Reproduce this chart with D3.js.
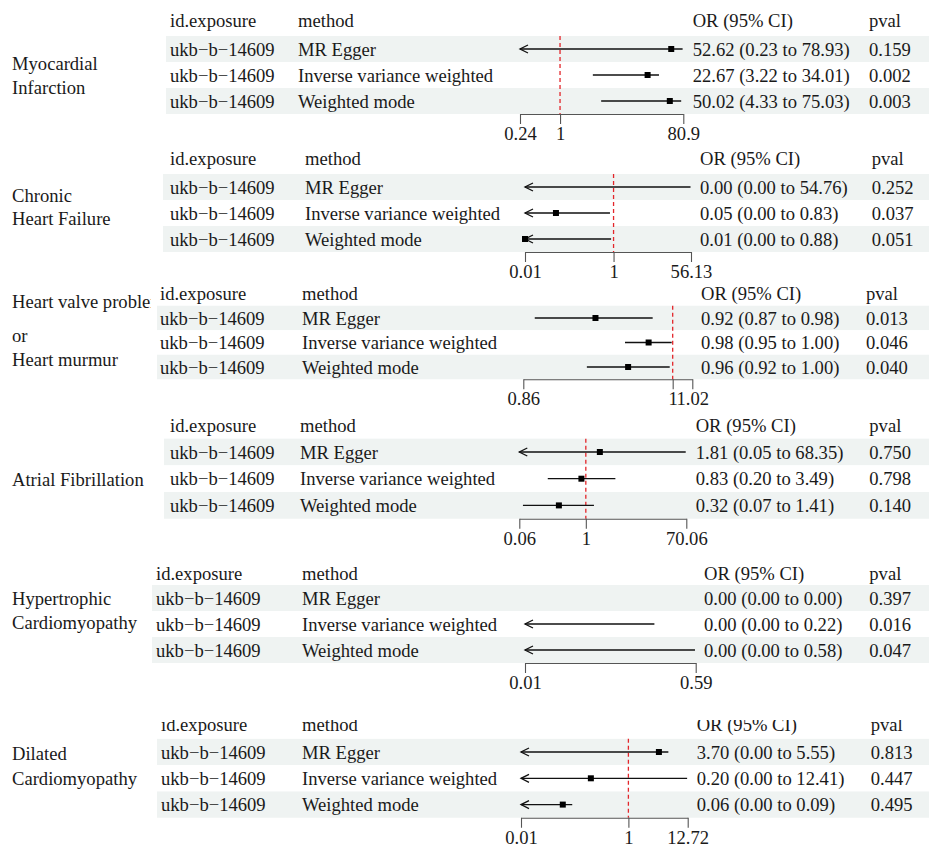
<!DOCTYPE html>
<html><head><meta charset="utf-8">
<script src="https://cdn.jsdelivr.net/npm/d3@7"></script>
<style>
body{margin:0;background:#fff}
svg text{font-family:"Liberation Serif","Times New Roman",serif;fill:#1a1a1a}
</style>
</head><body><svg id="chart" width="929" height="848"></svg>
<script>
// ---------------- data ----------------
const outcomes = [
  ["Myocardial","Infarction"],
  ["Chronic","Heart Failure"],
  ["Heart valve problem","or","Heart murmur"],
  ["Atrial Fibrillation"],
  ["Hypertrophic","Cardiomyopathy"],
  ["Dilated","Cardiomyopathy"]
];
const headers = ["id.exposure","method","OR (95% CI)","pval"];
const exposure = "ukb\u2212b\u221214609";
const methods = ["MR Egger","Inverse variance weighted","Weighted mode"];

const estimates = [
  [52.62, 22.67, 50.02],
  [0.00, 0.05, 0.01],
  [0.925, 0.976, 0.956],
  [1.81, 0.83, 0.32],
  [0.00, 0.00, 0.00],
  [3.70, 0.20, 0.06]
];
const lowers = [
  [0.23, 3.22, 4.33],
  [0.00, 0.00, 0.00],
  [0.87, 0.953, 0.917],
  [0.05, 0.20, 0.07],
  [0.00, 0.00, 0.00],
  [0.00, 0.00, 0.00]
];
const uppers = [
  [78.93, 34.01, 75.03],
  [54.76, 0.83, 0.88],
  [0.98, 0.999, 0.997],
  [68.35, 3.49, 1.41],
  [0.00, 0.22, 0.58],
  [5.55, 12.41, 0.09]
];
const ciLabels = [
  ["52.62 (0.23 to 78.93)","22.67 (3.22 to 34.01)","50.02 (4.33 to 75.03)"],
  ["0.00 (0.00 to 54.76)","0.05 (0.00 to 0.83)","0.01 (0.00 to 0.88)"],
  ["0.92 (0.87 to 0.98)","0.98 (0.95 to 1.00)","0.96 (0.92 to 1.00)"],
  ["1.81 (0.05 to 68.35)","0.83 (0.20 to 3.49)","0.32 (0.07 to 1.41)"],
  ["0.00 (0.00 to 0.00)","0.00 (0.00 to 0.22)","0.00 (0.00 to 0.58)"],
  ["3.70 (0.00 to 5.55)","0.20 (0.00 to 12.41)","0.06 (0.00 to 0.09)"]
];
const pvals = [
  ["0.159","0.002","0.003"],
  ["0.252","0.037","0.051"],
  ["0.013","0.046","0.040"],
  ["0.750","0.798","0.140"],
  ["0.397","0.016","0.047"],
  ["0.813","0.447","0.495"]
];
const xLimits = [[0.24,80.9],[0.01,56.13],[0.86,1.02],[0.06,70.06],[0.01,0.59],[0.01,12.72]];
const tickValues = [[0.24,1,80.9],[0.01,1,56.13],[0.86,1,1.02],[0.06,1,70.06],[0.01,0.59],[0.01,1,12.72]];
const tickLabels = [["0.24","1","80.9"],["0.01","1","56.13"],["0.86","1","1.02"],["0.06","1","70.06"],["0.01","0.59"],["0.01","1","12.72"]];
const refValue = 1;

// ---------------- layout (positions only) ----------------
const layout = [
  {hy:20,  r1:49,  rh:26,   bgX:166, idX:170, mX:298, axL:520,   axR:683.3, orX:692.7, pX:869,   titleY:[63,87]},
  {hy:158, r1:187, rh:26,   bgX:163, idX:170, mX:305, axL:525,   axR:691,   orX:700,   pX:871.7, titleY:[195,218]},
  {hy:293, r1:318, rh:24.5, bgX:157, idX:160, mX:302, axL:523.3, axR:692.3, orX:701,   pX:866,   titleY:[301,335,359], titleClip:151},
  {hy:425, r1:452, rh:26.7, bgX:164, idX:170, mX:300, axL:519.3, axR:686.3, orX:695.7, pX:869.3, titleY:[479]},
  {hy:573, r1:598, rh:26,   bgX:152, idX:156, mX:302, axL:525,   axR:695.7, orX:704,   pX:869.3, titleY:[598,622]},
  {hy:724, r1:752, rh:26.3, bgX:157, idX:161, mX:302, axL:521,   axR:687.7, orX:696.7, pX:870.7, titleY:[753,778], clipTop:720}
];
const FS = 18.6;
const rowFill = "#eff3f2";
const svg = d3.select("#chart");
const defs = svg.append("defs");

outcomes.forEach((title, p) => {
  const L = layout[p];
  const g = svg.append("g");
  if (L.clipTop) {
    defs.append("clipPath").attr("id","clipTop"+p).append("rect")
      .attr("x",0).attr("y",L.clipTop).attr("width",929).attr("height",848-L.clipTop);
    g.attr("clip-path","url(#clipTop"+p+")");
  }
  const rowY = i => L.r1 + i*L.rh;
  const axisY = rowY(2) + L.rh/2;

  // row backgrounds
  g.selectAll("rect.bg").data(methods).enter().append("rect")
    .attr("x", L.bgX).attr("y",(d,i)=>rowY(i)-L.rh/2)
    .attr("width", 929-L.bgX).attr("height", L.rh)
    .attr("fill",(d,i)=> i%2===0 ? rowFill : "#ffffff");

  // title
  const tg = g.append("g");
  if (L.titleClip) {
    defs.append("clipPath").attr("id","clipTitle"+p).append("rect")
      .attr("x",0).attr("y",0).attr("width",L.titleClip).attr("height",848);
    tg.attr("clip-path","url(#clipTitle"+p+")");
  }
  tg.selectAll("text").data(title).enter().append("text")
    .attr("x",12).attr("y",(d,i)=>L.titleY[i])
    .attr("dominant-baseline","central").attr("font-size",FS).text(d=>d);

  // headers
  const hx = [L.idX, L.mX, L.orX, L.pX];
  g.selectAll("text.hdr").data(headers).enter().append("text")
    .attr("x",(d,i)=>hx[i]).attr("y",L.hy).attr("dominant-baseline","central")
    .attr("font-size",FS).text(d=>d);

  // table text
  methods.forEach((m,i)=>{
    const y = rowY(i);
    [[L.idX,exposure],[L.mX,m],[L.orX,ciLabels[p][i]],[L.pX,pvals[p][i]]].forEach(([x,t])=>{
      g.append("text").attr("x",x).attr("y",y).attr("dominant-baseline","central")
        .attr("font-size",FS).text(t);
    });
  });

  // scale
  const [xmin,xmax] = xLimits[p];
  const x = d3.scaleLog().domain([xmin,xmax]).range([L.axL,L.axR]);

  // reference line
  if (refValue >= xmin && refValue <= xmax) {
    g.append("line").attr("x1",x(refValue)).attr("x2",x(refValue))
      .attr("y1",rowY(0)-L.rh/2).attr("y2",axisY)
      .attr("stroke","#e3262b").attr("stroke-width",1.3).attr("stroke-dasharray","4,3");
  }

  // CI lines, arrows, points
  methods.forEach((m,i)=>{
    const y = rowY(i);
    const lo = lowers[p][i], hi = uppers[p][i], est = estimates[p][i];
    if (hi <= xmin) return;
    const loC = Math.max(lo, xmin), hiC = Math.min(hi, xmax);
    const x1 = x(loC), x2 = x(hiC);
    g.append("line").attr("x1",x1).attr("x2",x2).attr("y1",y).attr("y2",y)
      .attr("stroke","#111").attr("stroke-width",1.3);
    if (lo < xmin) {
      g.append("path").attr("d",`M${x1+8},${y-4}L${x1},${y}L${x1+8},${y+4}`)
        .attr("fill","none").attr("stroke","#111").attr("stroke-width",1.3);
    }
    if (hi > xmax) {
      g.append("path").attr("d",`M${x2-8},${y-4}L${x2},${y}L${x2-8},${y+4}`)
        .attr("fill","none").attr("stroke","#111").attr("stroke-width",1.3);
    }
    if (est >= xmin*0.999 && est <= xmax) {
      const s = 6;
      g.append("rect").attr("x",x(Math.max(est,xmin))-s/2).attr("y",y-s/2)
        .attr("width",s).attr("height",s).attr("fill","#000");
    }
  });

  // x axis
  const tl = tickLabels[p];
  const axis = d3.axisBottom(x).tickValues(tickValues[p])
    .tickFormat((d,i)=>tl[i]).tickSize(10).tickSizeOuter(0).tickPadding(3);
  const ag = g.append("g").attr("transform",`translate(0,${axisY})`).call(axis);
  ag.attr("font-family",null).attr("font-size",null);
  ag.select(".domain").attr("stroke","#555").attr("stroke-width",1.1);
  ag.selectAll(".tick line").attr("stroke","#555").attr("stroke-width",1.1);
  ag.selectAll(".tick text").attr("font-size",FS).attr("fill","#1a1a1a");
});
</script>
</body></html>
